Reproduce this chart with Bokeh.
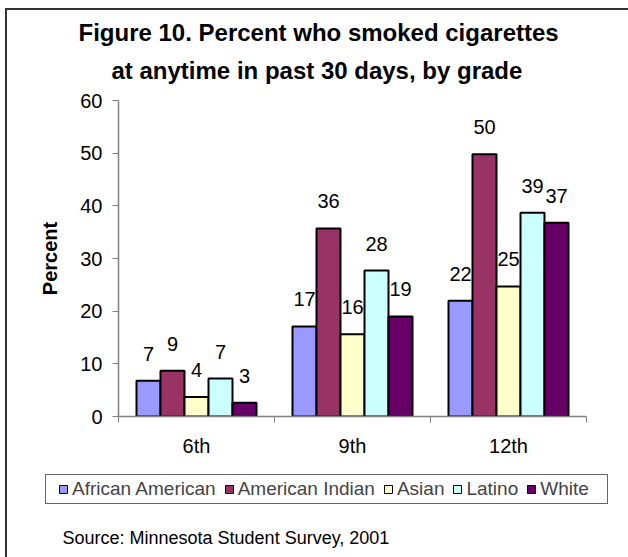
from bokeh.plotting import figure
from bokeh.models import (ColumnDataSource, LabelSet, Label, Legend, LegendItem,
                          FixedTicker, Range1d, Title)
from bokeh.layouts import column
from bokeh.core.properties import value
from bokeh.embed import file_html
from bokeh.resources import INLINE

# ---------------- data ----------------
grades = ["6th", "9th", "12th"]
groups = ["African American", "American Indian", "Asian", "Latino", "White"]
african_american = [6.8, 17.1, 22.0]
american_indian = [8.7, 35.7, 49.8]
asian = [3.7, 15.6, 24.7]
latino = [7.2, 27.7, 38.7]
white = [2.6, 19.0, 36.8]
series = [african_american, american_indian, asian, latino, white]
colors = ["#9999FF", "#993366", "#FFFFCC", "#CCFFFF", "#660066"]
y_ticks = [0, 10, 20, 30, 40, 50, 60]
title_lines = ["Figure 10. Percent who smoked cigarettes",
               "at anytime in past 30 days, by grade"]
source_note = "Source: Minnesota Student Survey, 2001"

FONT = "Liberation Sans"
AXIS_GRAY = "#808080"
W, H_MAIN, H_FOOT = 628, 463, 94

# ---------------- main chart ----------------
p = figure(width=W, height=H_MAIN, x_range=Range1d(0, len(grades)), y_range=Range1d(0, 60),
           output_backend="svg", toolbar_location=None,
           min_border_left=118, min_border_right=42, min_border_top=100, min_border_bottom=47)
p.frame_align = False
p.outline_line_color = None
p.xgrid.visible = False
p.ygrid.visible = False
p.background_fill_color = "white"
p.border_fill_alpha = 0

n = len(groups)
bar_w = 1.0 / (n + 1.5)
for i, (name, vals, col) in enumerate(zip(groups, series, colors)):
    xs = [g + 0.5 + (i - (n - 1) / 2) * bar_w for g in range(len(grades))]
    src = ColumnDataSource(dict(x=xs, top=vals, lbl=[str(int(round(v))) for v in vals]))
    p.vbar(x="x", top="top", width=bar_w, source=src, fill_color=col,
           line_color="black", line_width=2)
    p.add_layout(LabelSet(x="x", y="top", text="lbl", source=src, y_offset=27,
                          text_align="center", text_baseline="middle",
                          text_font=value(FONT), text_font_size=value("20px"),
                          text_color="black"))

# x axis: labels at centres, tick marks at category boundaries
xa = p.xaxis[0]
xa.ticker = FixedTicker(ticks=[g + 0.5 for g in range(len(grades))],
                        minor_ticks=list(range(len(grades) + 1)))
xa.major_label_overrides = {g + 0.5: grades[g] for g in range(len(grades))}
xa.major_tick_line_color = None
xa.major_tick_out = 0
xa.major_tick_in = 0
xa.minor_tick_in = 0
xa.minor_tick_out = 6
xa.minor_tick_line_color = AXIS_GRAY
xa.axis_line_color = AXIS_GRAY
xa.axis_line_width = 1.5
xa.major_label_standoff = 12
xa.major_label_text_font = FONT
xa.major_label_text_font_size = "20px"
xa.major_label_text_color = "black"

ya = p.yaxis[0]
ya.ticker = FixedTicker(ticks=y_ticks, minor_ticks=[])
ya.major_tick_in = 0
ya.major_tick_out = 6
ya.major_tick_line_color = AXIS_GRAY
ya.axis_line_color = AXIS_GRAY
ya.axis_line_width = 1.5
ya.major_label_standoff = 10
ya.major_label_text_font = FONT
ya.major_label_text_font_size = "20px"
ya.major_label_text_color = "black"
ya.axis_label = "Percent"
ya.axis_label_text_font = FONT
ya.axis_label_text_font_size = "20px"
ya.axis_label_text_font_style = "bold"
ya.axis_label_text_color = "black"
ya.axis_label_standoff = 16

# title lines (stacked above the frame; first added sits closest)
p.add_layout(Title(text=title_lines[1], align="left", offset=-7, standoff=33,
                   text_font=FONT, text_font_size="24px", text_font_style="bold",
                   text_color="black"), "above")
p.add_layout(Title(text=title_lines[0], align="left", offset=-40, standoff=-14,
                   text_font=FONT, text_font_size="24px", text_font_style="bold",
                   text_color="black"), "above")

# ---------------- footer: legend + source ----------------
q = figure(width=W, height=H_FOOT, x_range=Range1d(0, W), y_range=Range1d(0, H_FOOT),
           output_backend="svg", toolbar_location=None, x_axis_type=None, y_axis_type=None,
           min_border=0, min_border_left=0, min_border_right=0,
           min_border_top=0, min_border_bottom=0)
q.frame_align = False
q.outline_line_color = None
q.xgrid.visible = False
q.ygrid.visible = False
q.background_fill_alpha = 0
q.border_fill_alpha = 0

items = []
for name, col in zip(groups, colors):
    r = q.vbar(x=[float("nan")], top=[float("nan")], width=1, fill_color=col,
               line_color="black", line_width=1)
    items.append(LegendItem(label=name, renderers=[r]))
legend = Legend(items=items, orientation="horizontal", location=(58, 57),
                padding=0, spacing=8, label_standoff=4, glyph_width=10, glyph_height=10,
                label_text_font=FONT, label_text_font_size="19px",
                border_line_color=None, background_fill_alpha=0, margin=0)
q.add_layout(legend, "center")
q.add_layout(Label(x=62, y=20, text=source_note, text_align="left",
                   text_baseline="middle", text_font=FONT, text_font_size="18px",
                   text_color="black"))

page = column(p, q, spacing=0)
G = "linear-gradient(#333333,#333333)"
L = "linear-gradient(#666666,#666666)"
page.styles = {
    "background": ", ".join([
        f"{G} 5px 8px / 2px 600px no-repeat",
        f"{G} 5px 8px / 700px 2px no-repeat",
        f"{L} 45px 474px / 562px 1px no-repeat",
        f"{L} 45px 503px / 563px 1px no-repeat",
        f"{L} 45px 474px / 1px 29px no-repeat",
        f"{L} 607px 474px / 1px 29px no-repeat",
    ]) + ", white"
}

open("out.html", "w").write(file_html(page, INLINE))
